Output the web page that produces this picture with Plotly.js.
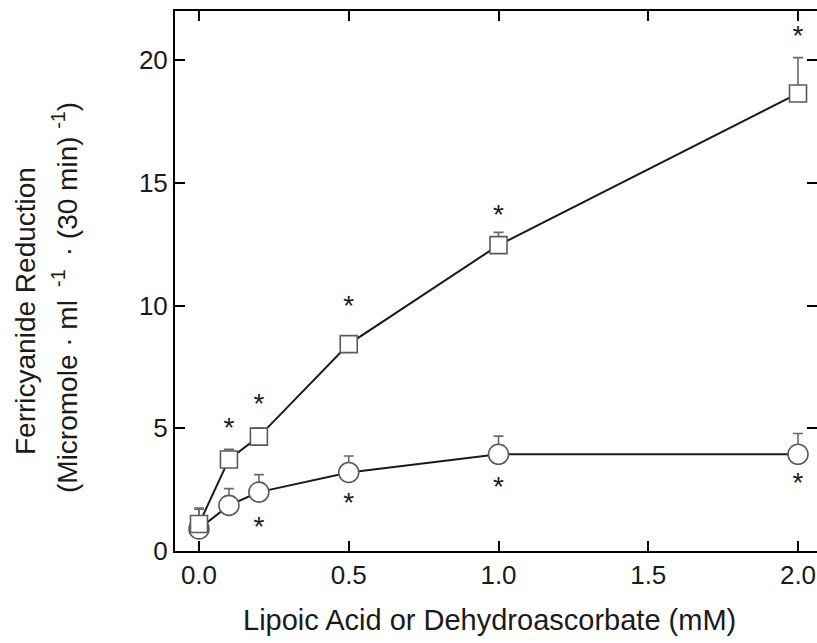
<!DOCTYPE html>
<html>
<head>
<meta charset="utf-8">
<script src="https://cdn.plot.ly/plotly-3.0.1.min.js"></script>
<style>html,body{margin:0;padding:0;background:#fff;}#chart{width:817px;height:643px;}</style>
</head>
<body>
<div id="chart"></div>
<script>
// Concentration (mM)
const conc = [0, 0.1, 0.2, 0.5, 1.0, 2.0];
// Square series (upper curve)
const squareMean = [1.1, 3.73, 4.66, 8.43, 12.46, 18.64];
const squareErr  = [0.6, 0.41, 0.35, 0.30, 0.52, 1.46];
// Circle series (lower curve)
const circleMean = [0.9, 1.86, 2.40, 3.20, 3.94, 3.94];
const circleErr  = [0.85, 0.68, 0.71, 0.67, 0.74, 0.85];
// Significance asterisks
const starSqX = [0.1, 0.2, 0.5, 1.0, 2.0];
const starSqY = [5.2, 6.15, 10.13, 13.85, 21.15];
const starCiX = [0.2, 0.5, 1.0, 2.0];
const starCiY = [1.15, 2.12, 2.78, 2.93];
// Ticks
const xTicks = [0, 0.5, 1.0, 1.5, 2.0];
const xTickText = ["0.0", "0.5", "1.0", "1.5", "2.0"];
const yTicks = [0, 5, 10, 15, 20];

const FONT = "Liberation Sans, Arial, Helvetica, sans-serif";
const TXT = "#1a1a1a";
const MK = "#5a5a5a";
const STAR_SHIFT = -0.25; // data units, glyph-centre correction

const traces = [
  {
    x: conc, y: circleMean, type: "scatter", mode: "lines+markers",
    line: {color: TXT, width: 2},
    marker: {symbol: "circle", size: 20, color: "#ffffff", line: {color: MK, width: 1.6}},
    error_y: {type: "data", symmetric: false, array: circleErr, arrayminus: circleErr.map(() => 0),
              color: "#6a6a6a", thickness: 1.6, width: 5},
    showlegend: false, hoverinfo: "skip"
  },
  {
    x: conc, y: squareMean, type: "scatter", mode: "lines+markers",
    line: {color: TXT, width: 2},
    marker: {symbol: "square", size: 17, color: "#ffffff", line: {color: MK, width: 1.6}},
    error_y: {type: "data", symmetric: false, array: squareErr, arrayminus: squareErr.map(() => 0),
              color: "#6a6a6a", thickness: 1.6, width: 5},
    showlegend: false, hoverinfo: "skip"
  },
  {
    x: starSqX.concat(starCiX), y: starSqY.concat(starCiY).map(v => v + STAR_SHIFT),
    type: "scatter", mode: "text", text: starSqX.concat(starCiX).map(() => "*"),
    textposition: "middle center",
    textfont: {family: FONT, size: 28, color: TXT},
    showlegend: false, hoverinfo: "skip"
  }
];

const L = 175, T = 11, B = 92, W = 817, H = 643;
const pw = W - L, ph = H - T - B;
function px2paperX(p) { return (p - L) / pw; }
function px2paperY(p) { return (H - B - p) / ph; }

const axisCommon = {
  showline: true, linecolor: "#000", linewidth: 2, mirror: "ticks",
  ticks: "inside", ticklen: 10, tickwidth: 2, tickcolor: "#000",
  showgrid: false, zeroline: false,
  tickfont: {family: FONT, size: 26, color: TXT}
};

const layout = {
  width: W, height: H,
  margin: {l: L, r: 0, t: T, b: B, pad: 0},
  paper_bgcolor: "#fff", plot_bgcolor: "#fff",
  xaxis: Object.assign({}, axisCommon, {
    range: [-0.0801, 2.0634], tickvals: xTicks, ticktext: xTickText
  }),
  yaxis: Object.assign({}, axisCommon, {
    range: [0, 22], tickvals: yTicks
  }),
  annotations: [
    {text: "Lipoic Acid or Dehydroascorbate (mM)", xref: "paper", yref: "paper",
     x: px2paperX(489.5), y: px2paperY(620), xanchor: "center", yanchor: "middle",
     showarrow: false, font: {family: FONT, size: 29, color: TXT}},
    {text: "Ferricyanide Reduction", xref: "paper", yref: "paper",
     x: px2paperX(25), y: px2paperY(311), xanchor: "center", yanchor: "middle", textangle: -90,
     showarrow: false, font: {family: FONT, size: 28, color: TXT}},
    {text: "(Micromole · ml <sup> -1 </sup> · (30 min) <sup>-1</sup>)", xref: "paper", yref: "paper",
     x: px2paperX(65), y: px2paperY(298), xanchor: "center", yanchor: "middle", textangle: -90,
     showarrow: false, font: {family: FONT, size: 28, color: TXT}}
  ]
};

Plotly.newPlot("chart", traces, layout, {displayModeBar: false, staticPlot: true});
</script>
</body>
</html>
